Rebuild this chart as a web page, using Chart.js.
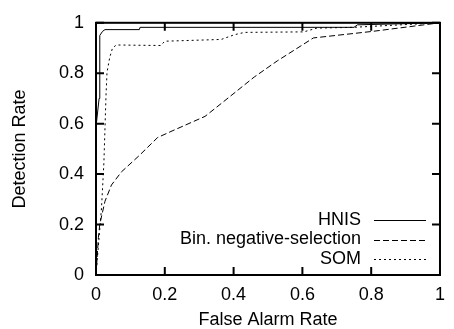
<!DOCTYPE html>
<html>
<head>
<meta charset="utf-8">
<script src="https://cdn.jsdelivr.net/npm/chart.js@4"></script>
<style>
  html, body { margin: 0; padding: 0; background: #fff; }
  #wrap { width: 454px; height: 329px; }
</style>
</head>
<body>
<div id="wrap"><canvas id="chart" width="454" height="329"></canvas></div>
<script>
// ROC curves
const hnisX = [0, 0.001, 0.009, 0.011, 0.019, 0.026, 0.126, 0.128, 0.75, 0.76, 1];
const hnisY = [0, 0.6, 0.7, 0.95, 0.966, 0.973, 0.973, 0.982, 0.982, 0.992, 1];

const binX = [0, 0.007, 0.011, 0.026, 0.045, 0.074, 0.126, 0.179, 0.221, 0.317, 0.365, 0.46, 0.527, 0.632, 0.804, 1];
const binY = [0, 0.149, 0.201, 0.292, 0.357, 0.409, 0.474, 0.545, 0.571, 0.629, 0.681, 0.785, 0.849, 0.94, 0.966, 1];

const somX = [0, 0.016, 0.023, 0.029, 0.032, 0.04, 0.048, 0.059, 0.188, 0.2, 0.364, 0.403, 0.432, 0.604, 0.642, 0.747, 1];
const somY = [0, 0.266, 0.447, 0.708, 0.804, 0.863, 0.9, 0.912, 0.91, 0.927, 0.934, 0.953, 0.962, 0.964, 0.979, 0.982, 1];

const seriesNames = ['HNIS', 'Bin. negative-selection', 'SOM'];
const xTickLabels = ['0', '0.2', '0.4', '0.6', '0.8', '1'];
const yTickLabels = ['0', '0.2', '0.4', '0.6', '0.8', '1'];

const FONT = { family: 'Liberation Sans', size: 18 };

function pairs(xs, ys) {
  return xs.map((x, i) => ({ x: x, y: ys[i] }));
}

// gnuplot style box with inward ticks on every side
const frame = {
  id: 'frame',
  afterDraw(chart) {
    const { ctx, chartArea: a, scales } = chart;
    const len = 8;
    ctx.save();
    ctx.strokeStyle = '#000';
    ctx.lineWidth = 2;
    ctx.beginPath();
    scales.x.ticks.forEach(t => {
      const px = scales.x.getPixelForValue(t.value);
      ctx.moveTo(px, a.bottom); ctx.lineTo(px, a.bottom - len);
      ctx.moveTo(px, a.top); ctx.lineTo(px, a.top + len);
    });
    scales.y.ticks.forEach(t => {
      const py = scales.y.getPixelForValue(t.value);
      ctx.moveTo(a.left, py); ctx.lineTo(a.left + len, py);
      ctx.moveTo(a.right, py); ctx.lineTo(a.right - len, py);
    });
    ctx.stroke();
    ctx.strokeRect(a.left, a.top, a.right - a.left, a.bottom - a.top);
    ctx.restore();
  }
};

// legend: right aligned text, line sample after it
const keyBox = {
  id: 'keyBox',
  afterDraw(chart) {
    const { ctx } = chart;
    ctx.save();
    ctx.font = FONT.size + 'px ' + FONT.family;
    ctx.fillStyle = '#000';
    ctx.textAlign = 'right';
    ctx.textBaseline = 'middle';
    chart.data.datasets.forEach((ds, i) => {
      const yy = 220 + i * 19.5;
      ctx.fillText(ds.label, 361, yy);
      ctx.beginPath();
      ctx.setLineDash(ds.borderDash || []);
      ctx.strokeStyle = ds.borderColor;
      ctx.lineWidth = ds.borderWidth;
      ctx.moveTo(374, Math.round(yy) + 0.5);
      ctx.lineTo(426, Math.round(yy) + 0.5);
      ctx.stroke();
    });
    ctx.restore();
  }
};

Chart.defaults.color = '#000';
Chart.defaults.font.family = FONT.family;
Chart.defaults.font.size = FONT.size;

new Chart(document.getElementById('chart').getContext('2d'), {
  type: 'line',
  data: {
    datasets: [
      { label: seriesNames[0], data: pairs(hnisX, hnisY), borderColor: '#000', borderWidth: 1, borderDash: [] },
      { label: seriesNames[1], data: pairs(binX, binY), borderColor: '#000', borderWidth: 1, borderDash: [6, 3] },
      { label: seriesNames[2], data: pairs(somX, somY), borderColor: '#000', borderWidth: 1, borderDash: [2, 3] },
    ]
  },
  options: {
    responsive: false,
    animation: false,
    layout: { padding: { top: 18, right: 9, left: 0, bottom: 0 } },
    elements: { point: { radius: 0 }, line: { tension: 0 } },
    plugins: { legend: { display: false }, tooltip: { enabled: false } },
    scales: {
      x: {
        type: 'linear', min: 0, max: 1,
        grid: { display: false, drawTicks: false },
        border: { display: false },
        ticks: {
          stepSize: 0.2, padding: 9, maxRotation: 0, autoSkip: false,
          callback: (v, i) => xTickLabels[i]
        },
        title: { display: true, text: 'False Alarm Rate', padding: 0, font: { lineHeight: 1 } },
        afterFit: s => { s.height = 54; }
      },
      y: {
        type: 'linear', min: 0, max: 1,
        grid: { display: false, drawTicks: false },
        border: { display: false },
        ticks: {
          stepSize: 0.2, padding: 12,
          callback: (v, i) => yTickLabels[i]
        },
        title: { display: true, text: 'Detection Rate', padding: { top: 11, bottom: 0 }, font: { lineHeight: 1 } },
        afterFit: s => { s.width = 96; }
      }
    }
  },
  plugins: [frame, keyBox]
});
</script>
</body>
</html>
